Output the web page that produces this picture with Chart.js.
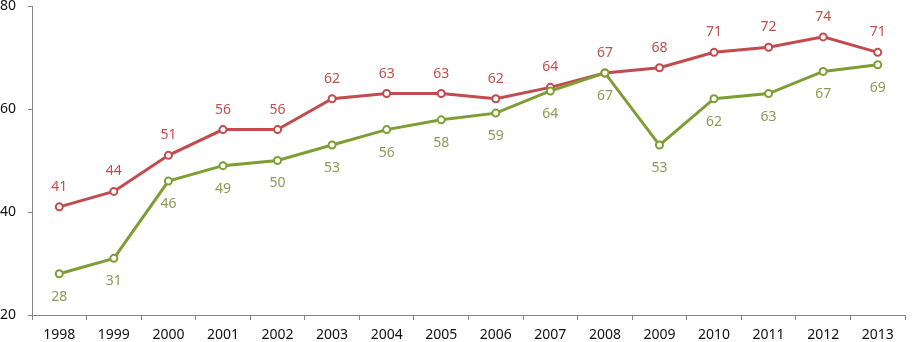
<!DOCTYPE html>
<html>
<head>
<meta charset="utf-8">
<script src="https://cdn.jsdelivr.net/npm/chart.js@4"></script>
<style>
  html, body { margin: 0; padding: 0; background: #fff; }
  #wrap { width: 912px; height: 342px; }
</style>
</head>
<body>
<div id="wrap"><canvas id="chart" width="912" height="342"></canvas></div>
<script>
// Data
const years = ['1998', '1999', '2000', '2001', '2002', '2003', '2004', '2005',
               '2006', '2007', '2008', '2009', '2010', '2011', '2012', '2013'];
const redSeries = [41, 44, 51, 56, 56, 62, 63, 63, 62, 64.2, 67, 68, 71, 72, 74, 71];
const greenSeries = [28, 31, 46, 49, 50, 53, 56, 57.9, 59.2, 63.5, 67, 53, 62, 63, 67.3, 68.6];
const yTicks = [20, 40, 60, 80];

const RED = '#C24B4F';
const RED_TEXT = '#C0504D';
const GREEN = '#7E9E35';
const GREEN_TEXT = '#8A9D50';
const FONT = '"Noto Sans", "Open Sans", sans-serif';

// Value labels above (red) / below (green) each point
const valueLabels = {
    id: 'valueLabels',
    afterDatasetsDraw(chart) {
        const ctx = chart.ctx;
        ctx.save();
        ctx.font = '14px ' + FONT;
        ctx.textAlign = 'center';
        ctx.textBaseline = 'middle';
        chart.data.datasets.forEach((ds, i) => {
            const meta = chart.getDatasetMeta(i);
            meta.data.forEach((pt, j) => {
                ctx.fillStyle = ds.labelColor;
                ctx.fillText(String(Math.round(ds.data[j])), pt.x, pt.y + ds.labelOffset);
            });
        });
        ctx.restore();
    }
};

new Chart(document.getElementById('chart').getContext('2d'), {
    type: 'line',
    data: {
        labels: years,
        datasets: [
            {
                label: 'green',
                data: greenSeries,
                borderColor: GREEN,
                backgroundColor: '#fff',
                pointBackgroundColor: '#fff',
                pointBorderColor: GREEN,
                borderWidth: 3,
                pointRadius: 3.5,
                pointBorderWidth: 2,
                tension: 0,
                labelOffset: 23,
                labelColor: GREEN_TEXT
            },
            {
                label: 'red',
                data: redSeries,
                borderColor: RED,
                backgroundColor: '#fff',
                pointBackgroundColor: '#fff',
                pointBorderColor: RED,
                borderWidth: 3,
                pointRadius: 3.5,
                pointBorderWidth: 2,
                tension: 0,
                labelOffset: -20,
                labelColor: RED_TEXT
            }
        ]
    },
    options: {
        responsive: false,
        animation: false,
        layout: { padding: { top: 5, right: 7, left: 0, bottom: 0 } },
        plugins: { legend: { display: false }, tooltip: { enabled: false } },
        scales: {
            x: {
                offset: true,
                grid: { offset: true, drawOnChartArea: false, color: '#868686', tickLength: 5 },
                border: { color: '#868686', width: 1 },
                ticks: { color: '#111', font: { family: FONT, size: 14 }, padding: 7, maxRotation: 0, autoSkip: false },
                afterFit(scale) { scale.height = 27; }
            },
            y: {
                min: 20,
                max: 80,
                afterBuildTicks(scale) { scale.ticks = yTicks.map(v => ({ value: v })); },
                grid: { drawOnChartArea: false, color: '#868686', tickLength: 4 },
                border: { color: '#868686', width: 1 },
                ticks: { color: '#111', font: { family: FONT, size: 14 }, padding: 12 },
                afterFit(scale) { scale.width = 32; scale.paddingTop = 0; scale.paddingBottom = 0; }
            }
        }
    },
    plugins: [valueLabels]
});
</script>
</body>
</html>
